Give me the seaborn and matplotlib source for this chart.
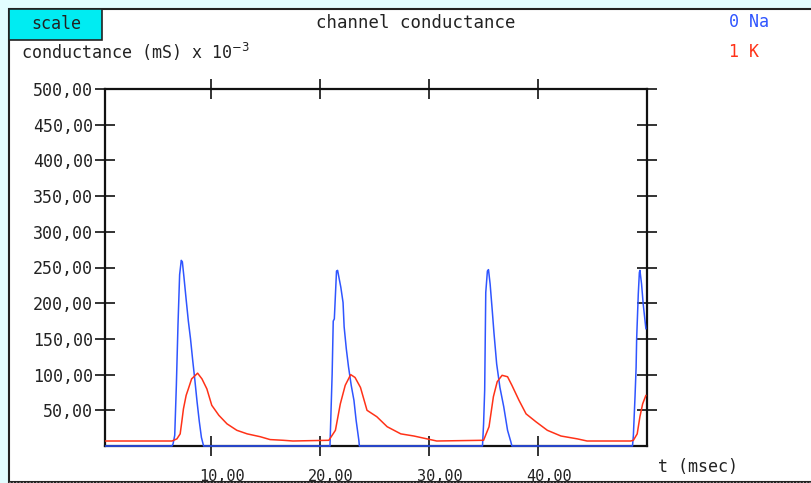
import numpy as np
import pandas as pd
import matplotlib
matplotlib.use("Agg")
import matplotlib.pyplot as plt
import seaborn as sns
from matplotlib.patches import Rectangle
from matplotlib.lines import Line2D
from matplotlib.transforms import ScaledTranslation
from matplotlib.ticker import FuncFormatter

# Sodium channel conductance (0 Na)
t_na = [0.3, 6.4, 6.5, 6.65, 6.8, 6.95, 7.1, 7.25, 7.35, 7.5, 7.7, 7.9, 8.1, 8.3, 8.5, 8.7, 8.9, 9.1, 9.3,
        20.9, 21.1, 21.2, 21.3, 21.5, 21.6, 21.9, 22.1, 22.2, 22.4, 22.6, 22.85, 23.1, 23.3, 23.55, 23.6,
        34.9, 35.0, 35.1, 35.2, 35.35, 35.45, 35.6, 35.8, 35.95, 36.2, 36.5, 36.85, 37.2, 37.5, 37.6,
        48.67, 48.75, 48.9, 49.0, 49.05, 49.2, 49.3, 49.35, 49.5, 49.65, 49.9]
g_na = [0, 0, 3, 15, 85, 170, 240, 260, 258, 236, 205, 175, 150, 120, 92, 62, 35, 12, 0,
        0, 101, 175, 178, 245, 246, 222, 201, 167, 136, 111, 85, 64, 36, 8, 0,
        0, 31, 78, 215, 245, 247, 227, 189, 159, 115, 82, 55, 22, 6, 0,
        0, 15, 69, 110, 150, 213, 243, 246, 227, 199, 164]

# Potassium channel conductance (1 K)
t_k = [0.3, 6.4, 6.85, 7.15, 7.3, 7.45, 7.7, 7.9, 8.2, 8.75, 9.15, 9.6, 10.05, 10.7, 11.45, 12.35, 13.3, 14.5,
       15.4, 16.6, 17.5,
       20.8, 21.4, 21.85, 22.3, 22.8, 23.2, 23.7, 24.3, 25.2, 26.15, 27.4, 28.6, 29.8, 30.7,
       35.0, 35.5, 35.9, 36.25, 36.7, 37.2, 37.6, 38.25, 38.9, 39.8, 40.85, 42.1, 43.6, 44.5,
       48.5, 48.75, 49.1, 49.35, 49.6, 49.9]
g_k = [7, 7, 10, 17, 34, 52, 71, 80, 94, 102, 94, 80, 57, 43, 31, 22, 17, 13,
       9, 8, 7,
       8, 22, 59, 85, 100, 96, 82, 50, 41, 27, 17, 14, 10, 7,
       8, 27, 69, 90, 99, 97, 85, 64, 45, 34, 22, 14, 10, 7,
       7, 8, 17, 41, 59, 71]

y_ticks = [50, 100, 150, 200, 250, 300, 350, 400, 450, 500]
x_ticks = [10, 20, 30, 40]
series_names = ["Na", "K"]
series_colors = ["#2f55ff", "#ff3218"]

df = pd.concat([
    pd.DataFrame({"t": t_na, "g": g_na, "ion": "Na"}),
    pd.DataFrame({"t": t_k, "g": g_k, "ion": "K"}),
], ignore_index=True)

sns.set_style("white")
plt.rcParams["font.family"] = ["DejaVu Sans Mono", "DejaVu Sans"]

W, H = 811, 483
fig = plt.figure(figsize=(W / 100, H / 100), dpi=100)
fig.patch.set_facecolor("#e2fdff")


def fx(x):
    return x / W


def fy(y):
    return 1 - y / H


# white panel with black frame, behind the axes
fig.patches.append(Rectangle((fx(9), fy(482)), fx(W + 20) - fx(9), fy(9) - fy(482),
                             transform=fig.transFigure, facecolor="white",
                             edgecolor="#222222", linewidth=1.5, zorder=-10))
fig.lines.append(Line2D([fx(9), 1], [fy(481.5), fy(481.5)], transform=fig.transFigure,
                        color="#999999", linestyle=(0, (1, 2)), linewidth=0.8, zorder=-9))
# "scale" button
fig.patches.append(Rectangle((fx(9), fy(40)), fx(102) - fx(9), fy(9) - fy(40),
                             transform=fig.transFigure, facecolor="#00ecf2",
                             edgecolor="#222222", linewidth=1.2, zorder=-8))

ax = fig.add_axes([fx(105), fy(446), fx(647) - fx(105), fy(89) - fy(446)])
ax.set_facecolor("white")

sns.lineplot(data=df, x="t", y="g", hue="ion", hue_order=series_names,
             palette=series_colors, estimator=None, sort=False,
             linewidth=1.1, legend=False, ax=ax)
for ln in ax.get_lines():
    ln.set_zorder(3)
    ln.set_clip_on(False)

ax.set_xlim(0.25, 50)
ax.set_ylim(0, 500)
ax.set_xlabel("")
ax.set_ylabel("")
ax.set_xticks(x_ticks)
ax.set_yticks(y_ticks)
fmt = FuncFormatter(lambda v, p: f"{v:.2f}".replace(".", ","))
ax.xaxis.set_major_formatter(fmt)
ax.yaxis.set_major_formatter(fmt)
ax.tick_params(axis="both", which="major", direction="inout", length=15,
               width=1.2, color="#111111", labelsize=12, labelcolor="#222222",
               left=True, bottom=True, top=True, right=True,
               labelleft=True, labelbottom=True, labeltop=False, labelright=False)
ax.tick_params(axis="y", pad=1)
ax.tick_params(axis="x", pad=9, labelsize=11)
for s in ax.spines.values():
    s.set_visible(True)
    s.set_color("#111111")
    s.set_linewidth(1.6)

for lbl in ax.get_xticklabels():
    lbl.set_transform(lbl.get_transform() + ScaledTranslation(11 / 100, 0, fig.dpi_scale_trans))

txt = dict(color="#222222", fontsize=12)
fig.text(fx(56), fy(24), "scale", ha="center", va="center", **txt)
fig.text(fx(416), fy(23), "channel conductance", ha="center", va="center", color="#222222", fontsize=12.5)
fig.text(fx(21), fy(52), "conductance (mS) x 10$^{-3}$", ha="left", va="center", **txt)
fig.text(fx(729), fy(22), "0 Na", ha="left", va="center", color=series_colors[0], fontsize=12)
fig.text(fx(729), fy(52), "1 K", ha="left", va="center", color=series_colors[1], fontsize=12)
fig.text(fx(658), fy(467), "t (msec)", ha="left", va="center", **txt)

fig.savefig("out.png", dpi=100, facecolor=fig.get_facecolor())
